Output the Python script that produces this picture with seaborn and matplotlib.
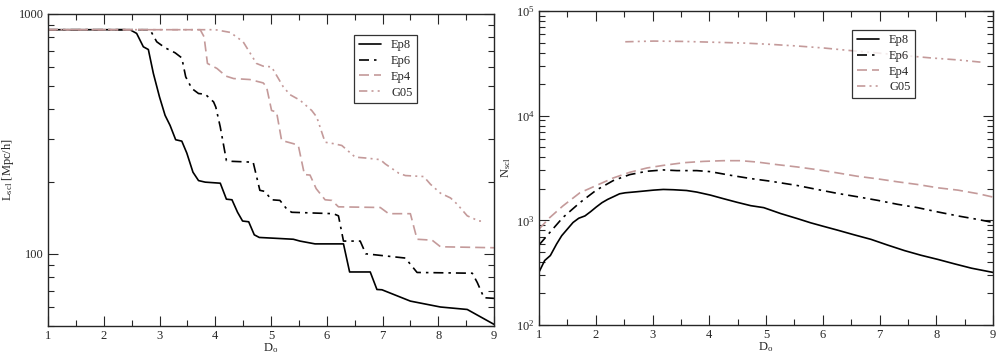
import numpy as np
import pandas as pd
import seaborn as sns
import matplotlib.pyplot as plt
from matplotlib.ticker import FixedLocator, MultipleLocator, LogLocator, NullFormatter

# ---- left panel: L_scl vs D_o ----
ep8_d = [1.0, 2.47, 2.59, 2.71, 2.8, 2.89, 3.0, 3.1, 3.19, 3.29, 3.4, 3.49, 3.6, 3.7, 3.82, 4.09,
         4.2, 4.3, 4.4, 4.49, 4.6, 4.7, 4.79, 5.1, 5.4, 5.52, 5.79, 6.3, 6.41, 6.78, 6.9, 6.99,
         7.5, 8.04, 8.52, 9.0]
ep8_l = [860, 860, 830, 730, 711, 565, 451, 378, 343, 299, 295, 263, 219, 202, 199, 197,
         169, 168, 149, 137, 136, 120, 117, 116, 115, 113, 110, 110, 84, 84, 71, 70.8,
         63.5, 60, 58.6, 50.8]

ep6_d = [1.0, 2.83, 2.95, 3.1, 3.28, 3.4, 3.47, 3.58, 3.7, 3.82, 3.97, 4.01, 4.09, 4.2, 4.3,
         4.68, 4.8, 4.89, 5.01, 5.16, 5.28, 5.37, 6.12, 6.21, 6.3, 6.6, 6.7, 7.41, 7.62, 8.61,
         8.7, 8.82, 9.0]
ep6_l = [860, 860, 766, 723, 689, 656, 547, 489, 466, 463, 430, 409, 338, 245, 243,
         241, 184, 182, 168, 167, 154, 149, 147, 144, 113, 113, 100, 96, 83.6, 83,
         75.9, 65.6, 65.2]

ep4_d = [1.0, 3.73, 3.8, 3.86, 4.03, 4.19, 4.33, 4.62, 4.86, 4.92, 5.01, 5.1, 5.19, 5.4, 5.49,
         5.6, 5.7, 5.81, 5.97, 6.09, 6.21, 6.96, 7.11, 7.5, 7.62, 7.89, 8.04, 9.0]
ep4_l = [860, 860, 803, 622, 593, 551, 538, 533, 516, 497, 396, 390, 297, 288, 283,
         214, 213, 187, 168, 167, 157, 156, 147, 147, 115, 114, 107, 106]

g05_d = [1.0, 4.0, 4.27, 4.5, 4.74, 4.86, 5.01, 5.22, 5.34, 5.52, 5.73, 5.82, 5.97, 6.12, 6.27,
         6.51, 6.69, 6.96, 7.05, 7.29, 7.41, 7.74, 7.86, 8.04, 8.22, 8.34, 8.52, 8.73, 8.79]
g05_l = [860, 860, 838, 766, 622, 606, 602, 497, 461, 437, 396, 372, 292, 288, 283,
         253, 251, 247, 237, 217, 212, 210, 195, 179, 171, 161, 144, 137, 137]

# ---- right panel: N_scl vs D_o ----
n_ep8_d = [1.0, 1.1, 1.2, 1.31, 1.4, 1.5, 1.6, 1.7, 1.81, 1.91, 2.01, 2.11, 2.21, 2.31, 2.42, 2.52,
           2.72, 3.02, 3.19, 3.37, 3.6, 3.78, 4.02, 4.25, 4.49, 4.73, 4.96, 5.26, 5.55, 5.79,
           6.02, 6.26, 6.55, 6.85, 7.14, 7.44, 7.73, 8.03, 8.32, 8.62, 9.0]
n_ep8 = [320, 413, 461, 594, 713, 825, 954, 1047, 1102, 1211, 1342, 1475, 1585, 1680, 1793, 1833,
         1875, 1944, 1973, 1960, 1928, 1862, 1742, 1610, 1487, 1381, 1322, 1160, 1040, 946,
         874, 806, 728, 658, 581, 514, 464, 423, 384, 349, 318]

n_ep6_d = [1.0, 1.19, 1.42, 1.72, 2.01, 2.31, 2.6, 2.9, 3.19, 3.43, 3.78, 4.02, 4.37, 4.73, 5.08,
           5.55, 5.9, 6.26, 6.61, 6.97, 7.32, 7.67, 8.03, 8.38, 8.74, 9.0]
n_ep6 = [581, 765, 1063, 1475, 1944, 2400, 2735, 2943, 3030, 2986, 2986, 2918, 2696, 2507, 2365,
         2152, 1973, 1808, 1680, 1551, 1422, 1322, 1202, 1102, 1018, 954]

n_ep4_d = [1.0, 1.19, 1.42, 1.72, 2.01, 2.31, 2.6, 2.9, 3.19, 3.55, 3.9, 4.25, 4.55, 4.84, 5.2,
           5.55, 5.9, 6.26, 6.61, 6.97, 7.32, 7.67, 8.03, 8.38, 8.74, 9.0]
n_ep4 = [825, 1063, 1371, 1833, 2152, 2542, 2877, 3162, 3350, 3553, 3658, 3715, 3715, 3606, 3404,
         3236, 3050, 2838, 2637, 2489, 2333, 2200, 2045, 1944, 1795, 1668]

n_g05_d = [2.52, 3.02, 3.55, 4.02, 4.61, 5.08, 5.55, 6.02, 6.5, 6.97, 7.44, 7.91, 8.38, 8.8]
n_g05 = [50800, 51600, 51200, 50400, 49400, 48000, 46300, 44300, 41800, 39700, 37500, 35600,
         34100, 32400]

labels = ['Ep8', 'Ep6', 'Ep4', 'G05']
pink = '#c49a9a'
styles = {
    'Ep8': dict(color='black', linestyle='-', linewidth=1.2),
    'Ep6': dict(color='black', linestyle=(0, (6, 3, 1.5, 3)), linewidth=1.2),
    'Ep4': dict(color=pink, linestyle=(0, (6, 3)), linewidth=1.2),
    'G05': dict(color=pink, linestyle=(0, (5, 2.5, 1.2, 2.5, 1.2, 2.5)), linewidth=1.2),
}

sns.set_style('ticks')
plt.rcParams['font.family'] = ['Liberation Serif', 'DejaVu Serif']
plt.rcParams['mathtext.fontset'] = 'custom'
plt.rcParams['mathtext.rm'] = 'Liberation Serif'
plt.rcParams['mathtext.it'] = 'Liberation Serif'
plt.rcParams['font.size'] = 9

fig = plt.figure(figsize=(9.97, 3.57), dpi=100)
W, H = 997, 357
ax1 = fig.add_axes([48 / W, 1 - 326 / H, (494 - 48) / W, (326 - 14) / H])
ax2 = fig.add_axes([539 / W, 1 - 325 / H, (993 - 539) / W, (325 - 11) / H])

left = {'Ep8': (ep8_d, ep8_l), 'Ep6': (ep6_d, ep6_l), 'Ep4': (ep4_d, ep4_l), 'G05': (g05_d, g05_l)}
right = {'Ep8': (n_ep8_d, n_ep8), 'Ep6': (n_ep6_d, n_ep6), 'Ep4': (n_ep4_d, n_ep4), 'G05': (n_g05_d, n_g05)}

for ax, data in [(ax1, left), (ax2, right)]:
    for name in labels:
        d, v = data[name]
        sns.lineplot(x=d, y=v, ax=ax, label=name, **styles[name])
    ax.set_yscale('log')
    ax.set_xlim(1, 9)
    ax.xaxis.set_major_locator(MultipleLocator(1))
    ax.xaxis.set_minor_locator(MultipleLocator(0.5))
    ax.tick_params(which='both', direction='in', top=True, right=True, labelsize=9, pad=3)
    ax.tick_params(which='major', length=7, width=0.8)
    ax.tick_params(which='minor', length=4, width=0.8)
    for s in ax.spines.values():
        s.set_linewidth(1.0)
    ax.set_xlabel(r'D$_{\rm o}$', fontsize=9, labelpad=-1)
    leg = ax.legend(loc='upper right', fontsize=9, frameon=True, fancybox=False,
                    handlelength=1.8, borderpad=0.35, labelspacing=0.3, handletextpad=0.8,
                    borderaxespad=0)
    leg.get_frame().set_edgecolor('black')
    leg.get_frame().set_linewidth(0.9)

ax1.set_ylim(50, 1000)
ax1.yaxis.set_major_locator(FixedLocator([100, 1000]))
ax1.set_yticklabels(['100', '1000'])
ax1.yaxis.set_minor_locator(LogLocator(base=10, subs=np.arange(2, 10)))
ax1.yaxis.set_minor_formatter(NullFormatter())
ax1.set_ylabel(r'L$_{\rm scl}$ [Mpc/h]', fontsize=9, labelpad=2)
ax1.legend_.set_bbox_to_anchor((0.827, 0.933), transform=ax1.transAxes)

ax2.set_ylim(100, 100000)
ax2.yaxis.set_major_locator(LogLocator(base=10))
ax2.yaxis.set_minor_locator(LogLocator(base=10, subs=np.arange(2, 10)))
ax2.yaxis.set_minor_formatter(NullFormatter())
ax2.set_ylabel(r'N$_{\rm scl}$', fontsize=9, labelpad=2)
ax2.legend_.set_bbox_to_anchor((0.828, 0.94), transform=ax2.transAxes)

fig.savefig('out.png', dpi=100)
